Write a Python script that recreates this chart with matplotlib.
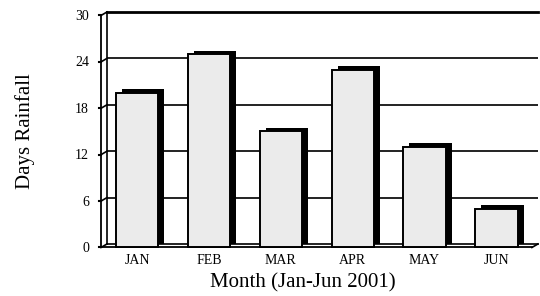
import matplotlib
matplotlib.use('Agg')
import matplotlib.pyplot as plt
from matplotlib.transforms import ScaledTranslation

# data
months = ['JAN', 'FEB', 'MAR', 'APR', 'MAY', 'JUN']
days_rainfall = [20, 25, 15, 23, 13, 5]
y_ticks = [0, 6, 12, 18, 24, 30]

plt.rcParams['font.family'] = ['Liberation Serif', 'DejaVu Serif']

fig = plt.figure(figsize=(5.4, 2.96), dpi=100)
ax = fig.add_axes([0.1981, 0.1757, 0.798, 0.7838])
ax.set_xlim(0, 6)
ax.set_ylim(0, 30)

# front plane = back plane shifted left and down (fake 3D)
front = ax.transData + ScaledTranslation(-0.06, -0.035, fig.dpi_scale_trans)

# gridlines on back wall
for t in y_ticks[1:-1]:
    ax.axhline(t, color='#222222', lw=1.4, zorder=1)
# grid diagonals through left wall
for t in y_ticks:
    x0, y0 = front.transform((0, t))
    x1, y1 = ax.transData.transform((0, t))
    ax.plot([x0, x1], [y0, y1], color='black', lw=1.2, transform=None,
            clip_on=False, zorder=1)
    ax.plot([x0 - 2, x0], [y0, y0], color='black', lw=1.5, transform=None,
            clip_on=False, zorder=1)

# left wall front edge and floor front edge
ax.plot([0, 0], [0, 30], color='black', lw=1.3, transform=front, clip_on=False)
ax.plot([0, 6], [0, 0], color='black', lw=1.3, transform=front, clip_on=False)
x0, y0 = front.transform((6, 0))
x1, y1 = ax.transData.transform((6, 0))
ax.plot([x0, x1], [y0, y1], color='black', lw=1.2, transform=None, clip_on=False)

pos = [i + 0.21 for i in range(len(months))]
# side/top of bars (black)
ax.bar(pos, days_rainfall, width=0.59, align='edge', color='black',
       zorder=3, clip_on=False)
# front faces
ax.bar(pos, days_rainfall, width=0.59, align='edge', color='#ebebeb',
       edgecolor='black', linewidth=1.4, transform=front,
       zorder=4, clip_on=False)

ax.spines['right'].set_visible(False)
ax.spines['top'].set_linewidth(2.0)
ax.spines['left'].set_linewidth(1.2)
ax.spines['bottom'].set_linewidth(1.2)

ax.set_yticks(y_ticks)
ax.set_yticklabels([str(t) for t in y_ticks], fontsize=10)
ax.tick_params(axis='y', length=0, pad=13)
for lab in ax.get_yticklabels():
    lab.set_transform(lab.get_transform() + ScaledTranslation(0, -0.03, fig.dpi_scale_trans))

ax.set_xticks([i + 0.42 for i in range(len(months))])
ax.set_xticklabels(months, fontsize=10)
ax.tick_params(axis='x', length=0, pad=7)

fig.text(303 / 540, 1 - 283 / 296, 'Month (Jan-Jun 2001)', fontsize=15,
         ha='center', va='center')
fig.text(25 / 540, 1 - 131 / 296, 'Days Rainfall', fontsize=15,
         rotation=90, ha='center', va='center')

fig.savefig('out.png', dpi=100)
